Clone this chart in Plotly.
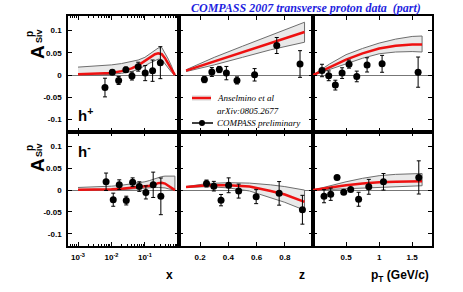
import plotly.graph_objects as go

# ---------------- data ----------------
# x panel (log scale)
x_hp = [0.0064, 0.0106, 0.0164, 0.027, 0.041, 0.063, 0.102, 0.17, 0.29]
a_hp_x = [-0.028, 0.0067, -0.012, 0.012, -0.002, 0.019, 0.0045, 0.010, 0.028]
e_hp_x = [0.021, 0.005, 0.009, 0.006, 0.009, 0.010, 0.017, 0.024, 0.036]
x_hm = [0.0069, 0.0113, 0.0171, 0.0277, 0.043, 0.068, 0.107, 0.177, 0.30]
a_hm_x = [0.019, -0.022, 0.0125, -0.024, 0.018, 0.008, -0.0053, 0.0121, -0.0143]
e_hm_x = [0.020, 0.015, 0.011, 0.010, 0.010, 0.011, 0.015, 0.029, 0.042]

xc = [0.001, 0.0032, 0.01, 0.02, 0.04, 0.063, 0.1, 0.14, 0.2, 0.25, 0.32, 0.4, 0.5, 0.63, 0.79]
hp_x_red = [0.002, 0.003, 0.005, 0.009, 0.015, 0.022, 0.032, 0.040, 0.047, 0.049, 0.047, 0.038, 0.025, 0.012, 0.0]
hp_x_up = [0.018, 0.020, 0.023, 0.026, 0.030, 0.034, 0.040, 0.047, 0.056, 0.061, 0.062, 0.050, 0.036, 0.020, 0.002]
hp_x_lo = [0.0, 0.0, 0.002, 0.004, 0.008, 0.013, 0.021, 0.027, 0.033, 0.036, 0.035, 0.028, 0.016, 0.006, 0.0]
hm_x_red = [0.001, 0.001, 0.002, 0.003, 0.005, 0.006, 0.008, 0.010, 0.013, 0.016, 0.017, 0.015, 0.010, 0.005, 0.0]
hm_x_up = [0.006, 0.007, 0.009, 0.011, 0.014, 0.016, 0.019, 0.022, 0.026, 0.029, 0.031, 0.032, 0.032, 0.032, 0.032]
hm_x_lo = [-0.001, -0.001, 0.0, 0.001, 0.002, 0.003, 0.004, 0.005, 0.006, 0.006, 0.006, 0.005, 0.003, 0.001, 0.0]

# z panel
z_hp = [0.23, 0.283, 0.336, 0.386, 0.461, 0.586, 0.743, 0.908]
a_hp_z = [-0.010, 0.007, 0.0126, 0.0045, -0.012, 0.0007, 0.0666, 0.025]
e_hp_z = [0.007, 0.010, 0.007, 0.015, 0.008, 0.014, 0.018, 0.030]
z_hm = [0.245, 0.297, 0.348, 0.402, 0.473, 0.597, 0.76, 0.925]
a_hm_z = [0.015, 0.009, -0.023, 0.011, -0.0023, -0.015, -0.0075, -0.045]
e_hm_z = [0.008, 0.011, 0.013, 0.017, 0.016, 0.016, 0.027, 0.033]

zc = [0.1, 0.3, 0.5, 0.7, 0.94]
hp_z_red = [0.010, 0.031, 0.052, 0.072, 0.097]
hp_z_up = [0.012, 0.040, 0.065, 0.090, 0.119]
hp_z_lo = [0.008, 0.023, 0.040, 0.057, 0.074]
zc2 = [0.1, 0.25, 0.4, 0.55, 0.7, 0.8, 0.94]
hm_z_red = [0.007, 0.011, 0.011, 0.008, -0.002, -0.010, -0.027]
hm_z_up = [0.008, 0.015, 0.017, 0.016, 0.012, 0.008, 0.0]
hm_z_lo = [0.006, 0.008, 0.005, -0.002, -0.017, -0.028, -0.046]

# pT panel
p_hp = [0.136, 0.238, 0.338, 0.44, 0.545, 0.662, 0.818, 1.045, 1.59]
a_hp_p = [0.0104, -0.0016, -0.0225, 0.0045, 0.0247, -0.003, 0.023, 0.0254, 0.0067]
e_hp_p = [0.014, 0.011, 0.011, 0.012, 0.009, 0.012, 0.016, 0.019, 0.034]
p_hm = [0.167, 0.268, 0.364, 0.465, 0.57, 0.69, 0.844, 1.066, 1.6]
a_hm_p = [-0.014, -0.0095, 0.029, -0.005, 0.0016, -0.021, 0.0075, 0.019, 0.029]
e_hm_p = [0.015, 0.014, 0.004, 0.005, 0.004, 0.016, 0.017, 0.019, 0.038]

pc = [0.0, 0.25, 0.5, 0.75, 1.0, 1.25, 1.5, 1.65]
hp_p_red = [0.0, 0.018, 0.035, 0.049, 0.060, 0.066, 0.069, 0.069]
hp_p_up = [0.0, 0.025, 0.046, 0.060, 0.072, 0.081, 0.087, 0.088]
hp_p_lo = [0.0, 0.012, 0.025, 0.038, 0.048, 0.052, 0.053, 0.052]
hm_p_red = [0.0, 0.006, 0.011, 0.015, 0.018, 0.019, 0.020, 0.020]
hm_p_up = [0.0, 0.010, 0.019, 0.027, 0.033, 0.036, 0.038, 0.038]
hm_p_lo = [0.0, 0.001, 0.003, 0.005, 0.006, 0.008, 0.009, 0.010]

y_ticks = [-0.1, -0.05, 0, 0.05, 0.1]
y_ticktext = ["-0.1", "-0.05", "0", "0.05", "0.1"]
x_ticks = [0.001, 0.01, 0.1]
x_ticktext = ["10<sup>-3</sup>", "10<sup>-2</sup>", "10<sup>-1</sup>"]
z_ticks = [0.2, 0.4, 0.6, 0.8]
p_ticks = [0.5, 1, 1.5]

# ---------------- figure ----------------
W, H = 463, 292
fig = go.Figure()

panels = [
    (1, xc, hp_x_red, hp_x_up, hp_x_lo, x_hp, a_hp_x, e_hp_x),
    (2, zc, hp_z_red, hp_z_up, hp_z_lo, z_hp, a_hp_z, e_hp_z),
    (3, pc, hp_p_red, hp_p_up, hp_p_lo, p_hp, a_hp_p, e_hp_p),
    (4, xc, hm_x_red, hm_x_up, hm_x_lo, x_hm, a_hm_x, e_hm_x),
    (5, zc2, hm_z_red, hm_z_up, hm_z_lo, z_hm, a_hm_z, e_hm_z),
    (6, pc, hm_p_red, hm_p_up, hm_p_lo, p_hm, a_hm_p, e_hm_p),
]

for i, cx, red, up, lo, px, py, pe in panels:
    xa = "x" if i == 1 else f"x{i}"
    ya = "y" if i == 1 else f"y{i}"
    fig.add_trace(go.Scatter(x=list(cx) + list(cx)[::-1], y=list(up) + list(lo)[::-1],
                             fill="toself", fillcolor="#e9e9e9", mode="lines",
                             line=dict(color="#6e6e6e", width=1), xaxis=xa, yaxis=ya,
                             showlegend=False, hoverinfo="skip"))
    fig.add_trace(go.Scatter(x=cx, y=red, mode="lines", line=dict(color="#ee1111", width=2.5),
                             xaxis=xa, yaxis=ya, showlegend=False))
    fig.add_trace(go.Scatter(x=px, y=py, mode="markers",
                             marker=dict(color="black", size=7),
                             error_y=dict(type="data", array=pe, color="black", thickness=1, width=2),
                             xaxis=xa, yaxis=ya, showlegend=False))

def px2paper_x(p):
    return p / W

def px2paper_y(p):
    return 1 - p / H

xdom = [(68, 179), (179, 313), (313, 432)]
ydom = [(16, 132), (132, 246)]

layout = dict(width=W, height=H, margin=dict(l=0, r=0, t=0, b=0),
              paper_bgcolor="white", plot_bgcolor="white", showlegend=False)

tickfont = dict(family="Liberation Sans", size=8, color="black", weight="bold")
xranges = [[-3.3, 0.02], [0.05, 1.0], [0.0, 1.8]]
for i in range(1, 7):
    col = (i - 1) % 3
    row = (i - 1) // 3
    xk = "xaxis" if i == 1 else f"xaxis{i}"
    yk = "yaxis" if i == 1 else f"yaxis{i}"
    x0, x1 = xdom[col]
    y0, y1 = ydom[row]
    xa = dict(domain=[px2paper_x(x0), px2paper_x(x1)], anchor="y" if i == 1 else f"y{i}",
              range=xranges[col], showline=True, linecolor="black", linewidth=1.5,
              mirror="allticks", ticks="inside", ticklen=4, tickcolor="black",
              showgrid=False, zeroline=False, tickfont=tickfont,
              showticklabels=(row == 1), ticklabelstandoff=3)
    if col == 0:
        xa.update(type="log", tickvals=x_ticks, ticktext=x_ticktext,
                  minor=dict(ticks="inside", ticklen=2, tickcolor="black", showgrid=False,
                             tickvals=[k * 10 ** e for e in (-4, -3, -2, -1) for k in range(2, 10)]))
    elif col == 1:
        xa.update(tickvals=z_ticks, ticktext=["0.2", "0.4", "0.6", "0.8"])
    else:
        xa.update(tickvals=p_ticks, ticktext=["0.5", "1", "1.5"])
    ya = dict(domain=[px2paper_y(y1), px2paper_y(y0)], anchor="x" if i == 1 else f"x{i}",
              range=[-0.128, 0.133], showline=True, linecolor="black", linewidth=1.5,
              mirror="allticks", ticks="inside", ticklen=4, tickcolor="black",
              showgrid=False, zeroline=True, zerolinecolor="#777777", zerolinewidth=1,
              tickvals=y_ticks, ticktext=y_ticktext, tickfont=tickfont,
              showticklabels=(col == 0), ticklabelstandoff=3)
    layout[xk] = xa
    layout[yk] = ya

fig.update_layout(**layout)

ann = []
def A(text, x, y, size, **kw):
    d = dict(text=text, x=px2paper_x(x), y=px2paper_y(y), xref="paper", yref="paper",
             xanchor="center", yanchor="middle",
             showarrow=False, font=dict(family="Liberation Sans", size=size, color="black"))
    d.update(kw)
    ann.append(d)

# title
A("<b><i>COMPASS 2007 transverse proton data  (part)</i></b>", 306, 8, 12,
  font=dict(family="Liberation Serif", size=12, color="#1f1fe0"))

# y axis titles
for ycA, ycp, ycs in [(52, 34, 36), (165, 148, 150)]:
    A("<b>A</b>", 37, ycA, 19, textangle=-90)
    A("<b>p</b>", 29, ycp, 10, textangle=-90)
    A("<b>Siv</b>", 39, ycs, 9, textangle=-90)

# panel labels
A("<b>h<sup>+</sup></b>", 85, 114, 15)
A("<b>h<sup>-</sup></b>", 84, 150, 15)

# x axis titles
A("<b>x</b>", 169, 275, 12)
A("<b>z</b>", 302, 275, 12)
A("<b>p<sub>T</sub> (GeV/c)</b>", 400, 276, 12)

# legend text
lf = dict(family="Liberation Serif", size=9, color="black")
A("<i>Anselmino et al</i>", 215, 98, 9, xanchor="left", font=lf)
A("<i>arXiv:0805.2677</i>", 215, 111, 9, xanchor="left", font=lf)
A("<i>COMPASS preliminary</i>", 215, 123, 9, xanchor="left", font=lf)
fig.update_layout(annotations=ann)

# legend samples
shapes = [
    dict(type="rect", xref="paper", yref="paper", x0=px2paper_x(192), x1=px2paper_x(211),
         y0=px2paper_y(101), y1=px2paper_y(95), fillcolor="#e9e9e9", line=dict(width=0)),
    dict(type="line", xref="paper", yref="paper", x0=px2paper_x(192), x1=px2paper_x(211),
         y0=px2paper_y(98), y1=px2paper_y(98), line=dict(color="#ee1111", width=2.5)),
    dict(type="line", xref="paper", yref="paper", x0=px2paper_x(192), x1=px2paper_x(213),
         y0=px2paper_y(123), y1=px2paper_y(123), line=dict(color="black", width=1.5)),
    dict(type="circle", xref="paper", yref="paper", x0=px2paper_x(199), x1=px2paper_x(205),
         y0=px2paper_y(126), y1=px2paper_y(120), fillcolor="black", line=dict(color="black", width=0)),
]
fig.update_layout(shapes=shapes)

fig.write_html("out.html", config={"displayModeBar": False},
               post_script="document.body.style.margin='0';document.body.style.overflow='hidden';")
